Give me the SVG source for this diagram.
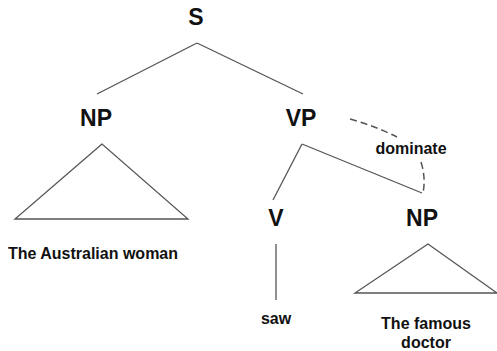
<svg xmlns="http://www.w3.org/2000/svg" width="497" height="351" viewBox="0 0 497 351">
<style>
.cat{font-family:"Liberation Sans",Arial,sans-serif;font-weight:bold;font-size:23px;fill:#111;text-anchor:middle}
.word{font-family:"Liberation Sans",Arial,sans-serif;font-weight:bold;font-size:16px;fill:#111;text-anchor:middle}
.edge{stroke:#555;stroke-width:1.3;fill:none}
.tri{stroke:#555;stroke-width:1.3;fill:none;stroke-linejoin:miter}
.dash{stroke:#555;stroke-width:1.5;fill:none;stroke-dasharray:7 4}
</style>
<rect width="497" height="351" fill="#fff"/>
<g id="connectors">
<line class="edge" x1="197" y1="43" x2="97" y2="94"/>
<line class="edge" x1="197" y1="43" x2="303" y2="94"/>
<line class="edge" x1="302" y1="144" x2="273" y2="200"/>
<line class="edge" x1="302" y1="144" x2="422" y2="193"/>
<line class="edge" x1="276" y1="244" x2="276" y2="300"/>
<path class="dash" d="M350,119 Q375,126 397,137"/>
<path class="dash" d="M421,162 Q426,178 423,193"/>
<text class="word" x="411" y="154">dominate</text>
</g>
<g id="S"><text class="cat" x="196" y="25">S</text></g>
<g id="NP1"><text class="cat" x="96" y="126">NP</text>
<polygon class="tri" points="102,144 15,219 188,219"/></g>
<g id="NP1-words"><text class="word" x="93" y="259">The Australian woman</text></g>
<g id="VP"><text class="cat" x="301" y="126">VP</text></g>
<g id="V"><text class="cat" x="276" y="226">V</text></g>
<g id="saw"><text class="word" x="276" y="324">saw</text></g>
<g id="NP2"><text class="cat" x="422" y="226">NP</text>
<polygon class="tri" points="428,244 355,293 497,293"/></g>
<g id="NP2-words"><text class="word" x="426" y="329">The famous</text><text class="word" x="426" y="348">doctor</text></g>
</svg>
